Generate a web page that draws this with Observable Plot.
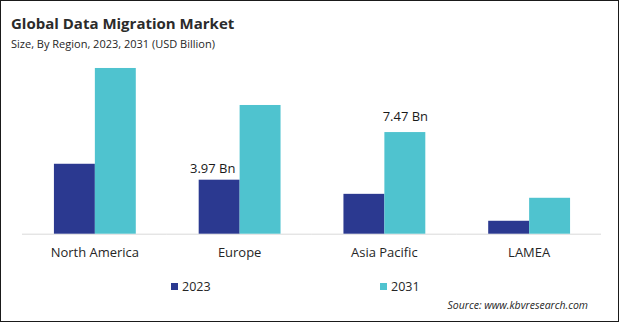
<!DOCTYPE html>
<html>
<head>
<meta charset="utf-8">
<script src="https://cdn.jsdelivr.net/npm/d3@7"></script>
<script src="https://cdn.jsdelivr.net/npm/@observablehq/plot@0.6"></script>
<style>
  html, body { margin: 0; padding: 0; background: #fff; }
  #frame { position: relative; width: 619px; height: 322px; box-sizing: border-box; border: 1px solid #1a1a1a; overflow: hidden; font-family: "Open Sans", sans-serif; color: #262626; }
  #title { position: absolute; left: 10px; top: 12px; font-size: 15px; font-weight: 700; line-height: 20px; color: #2b2b2b; white-space: nowrap; }
  #subtitle { position: absolute; left: 10px; top: 35px; font-size: 11px; line-height: 16px; color: #262626; white-space: nowrap; }
  #chart { position: absolute; left: -1px; top: 54px; }
  .legend { position: absolute; top: 278px; font-size: 12.5px; line-height: 16px; white-space: nowrap; }
  .legend span.sw { display: inline-block; width: 7px; height: 7px; margin-right: 4px; vertical-align: 1px; }
  #source { position: absolute; right: 30px; top: 296px; font-size: 10.5px; font-style: italic; line-height: 16px; color: #262626; white-space: nowrap; }
</style>
</head>
<body>
<div id="frame">
  <div id="title"></div>
  <div id="subtitle"></div>
  <div id="chart"></div>
  <div id="legend"></div>
  <div id="source"></div>
</div>
<script>
const titleText = "Global Data Migration Market";
const subtitleText = "Size, By Region, 2023, 2031 (USD Billion)";
const sourceText = "Source: www.kbvresearch.com";

const regions = ["North America", "Europe", "Asia Pacific", "LAMEA"];
const years = ["2023", "2031"];
const values2023 = [5.14, 3.97, 2.93, 0.95];
const values2031 = [12.18, 9.46, 7.47, 2.64];
const colors = ["#2b3990", "#4fc3cf"];

const labelRegions = ["Europe", "Asia Pacific"];
const labelYears = ["2023", "2031"];
const labelTexts = ["3.97 Bn", "7.47 Bn"];

const series = [values2023, values2031];
const data = [];
regions.forEach((r, i) => years.forEach((y, j) => data.push({region: r, year: y, value: series[j][i]})));
const labels = labelRegions.map((r, k) => {
  const d = data.find(e => e.region === r && e.year === labelYears[k]);
  return {region: r, year: labelYears[k], value: d.value, text: labelTexts[k]};
});

document.getElementById("title").textContent = titleText;
document.getElementById("subtitle").textContent = subtitleText;
document.getElementById("source").textContent = sourceText;

const chart = Plot.plot({
  width: 619,
  height: 215,
  marginLeft: 21,
  marginRight: 16,
  marginTop: 10,
  marginBottom: 36,
  style: {fontFamily: "Open Sans, sans-serif", fontSize: "13px", color: "#262626", background: "transparent"},
  fx: {domain: regions, padding: 0, label: null, axis: "bottom", tickSize: 0, tickPadding: 14},
  x: {domain: years, axis: null, paddingInner: 0, paddingOuter: 0.753},
  y: {domain: [0, 12.4], axis: null},
  color: {domain: years, range: colors},
  marks: [
    Plot.ruleY([0], {stroke: "#d9d9d9", strokeWidth: 1}),
    Plot.barY(data, {fx: "region", x: "year", y: "value", fill: "year"}),
    Plot.text(labels.slice(0, 1), {fx: "region", x: "year", y: "value", text: "text", dx: -7, dy: -11, fill: "#1a1a1a", fontSize: 13}),
    Plot.text(labels.slice(1), {fx: "region", x: "year", y: "value", text: "text", dy: -16, fill: "#1a1a1a", fontSize: 13})
  ]
});
document.getElementById("chart").appendChild(chart);

const legendPos = [170, 379];
const legend = document.getElementById("legend");
years.forEach((y, i) => {
  const el = document.createElement("div");
  el.className = "legend";
  el.style.left = legendPos[i] + "px";
  el.innerHTML = `<span class="sw" style="background:${colors[i]}"></span>${y}`;
  legend.appendChild(el);
});
</script>
</body>
</html>
